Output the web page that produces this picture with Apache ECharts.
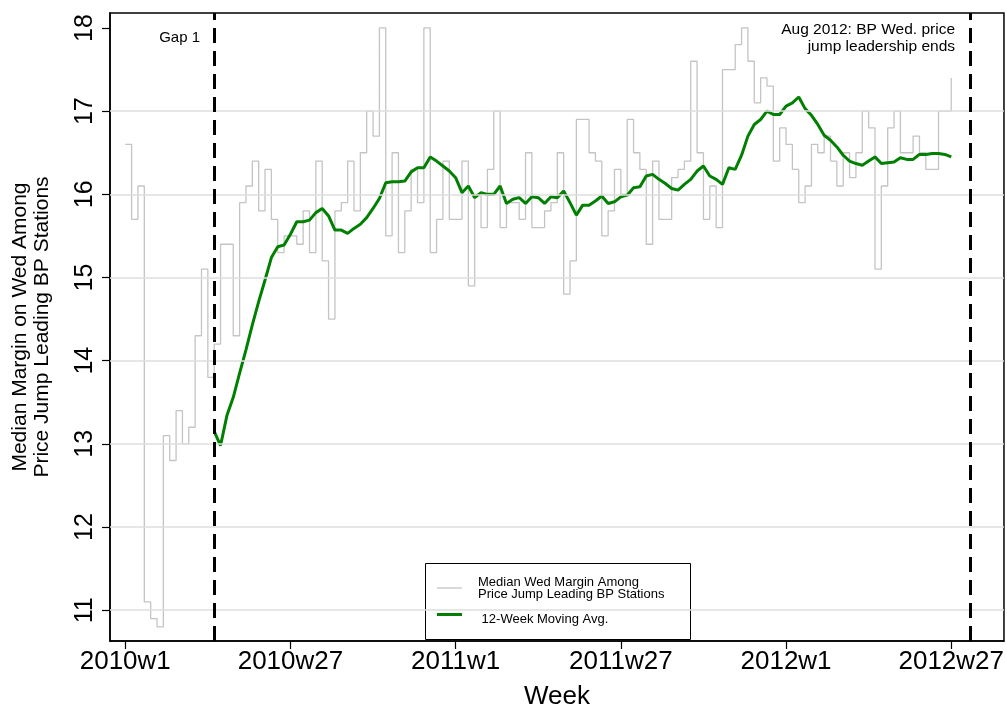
<!DOCTYPE html>
<html>
<head>
<meta charset="utf-8">
<script src="https://cdn.jsdelivr.net/npm/echarts@6/dist/echarts.min.js"></script>
<style>
    html, body { margin: 0; padding: 0; background: #ffffff; }
    #chart { width: 1007px; height: 715px; }
</style>
</head>
<body>
<div id="chart"></div>
<script>
    // week index 0 = 2010w1
    const marginWed = [
        16.6, 15.7, 16.1, 11.1, 10.9, 10.8, 13.1, 12.8, 13.4, 13.0,
        13.2, 14.3, 15.1, 13.8, 14.2, 15.4, 15.4, 14.3, 15.9, 16.1,
        16.4, 15.8, 16.3, 15.7, 15.3, 15.5, 15.5, 15.4, 15.8, 15.3,
        16.4, 15.2, 14.5, 15.8, 15.9, 16.4, 15.8, 16.5, 17.0, 16.7,
        18.0, 15.5, 16.5, 15.3, 15.8, 16.3, 15.9, 18.0, 15.3, 15.7,
        16.4, 15.7, 15.7, 16.4, 14.9, 16.0, 15.6, 16.3, 17.0, 15.6,
        15.9, 15.9, 15.7, 16.5, 15.6, 15.6, 15.8, 15.9, 16.5, 14.8,
        15.2, 16.9, 16.9, 16.5, 16.4, 15.5, 15.8, 16.3, 16.0, 16.9,
        16.5, 16.3, 15.4, 16.4, 15.7, 15.7, 16.2, 16.3, 16.4, 17.6,
        16.5, 15.7, 16.1, 15.6, 17.5, 17.5, 17.8, 18.0, 17.6, 17.1,
        17.4, 17.3, 16.4, 16.8, 16.6, 16.3, 15.9, 16.1, 16.6, 16.5,
        16.7, 16.4, 16.1, 16.5, 16.2, 16.5, 17.0, 16.8, 15.1, 16.1,
        16.8, 17.0, 16.5, 16.5, 16.7, 16.5, 16.3, 16.3, 17.0, 17.0,
        17.4
    ];

    // 12-week moving average, starts at week index 14
    const maStart = 14;
    const movingAvg = [
        13.15, 12.98, 13.34, 13.56, 13.85, 14.13, 14.43, 14.71, 14.97, 15.24,
        15.37, 15.39, 15.52, 15.67, 15.67, 15.69, 15.78, 15.83, 15.74, 15.57,
        15.57, 15.53, 15.59, 15.64, 15.72, 15.83, 15.95, 16.14, 16.15, 16.15,
        16.16, 16.27, 16.32, 16.32, 16.45, 16.40, 16.34, 16.28, 16.20, 16.02,
        16.10, 15.96, 16.02, 16.00, 16.00, 16.10, 15.89, 15.94, 15.96, 15.89,
        15.97, 15.96, 15.89, 15.97, 15.96, 16.04, 15.90, 15.75, 15.87, 15.87,
        15.92, 15.98, 15.89, 15.91, 15.97, 15.99, 16.08, 16.09, 16.22, 16.24,
        16.18, 16.13, 16.07, 16.05, 16.12, 16.18, 16.28, 16.34, 16.22, 16.18,
        16.12, 16.32, 16.30, 16.47, 16.70, 16.84, 16.90, 17.00, 16.96, 16.96,
        17.06, 17.10, 17.17, 17.03, 16.95, 16.84, 16.71, 16.65, 16.57, 16.47,
        16.40, 16.37, 16.35, 16.40, 16.45, 16.37, 16.38, 16.39, 16.44, 16.42,
        16.42, 16.48, 16.48, 16.49, 16.49, 16.48, 16.45
    ];

    const tickWeeks = [0, 26, 52, 78, 104, 130];
    const tickLabels = ['2010w1', '2010w27', '2011w1', '2011w27', '2012w1', '2012w27'];
    const yTicks = [11, 12, 13, 14, 15, 16, 17, 18];
    const gridValues = [11, 12, 13, 14, 15, 16, 17];
    const gapWeeks = [14, 133];

    const grayName = 'Median Wed Margin Among\nPrice Jump Leading BP Stations';
    const greenName = ' 12-Week Moving Avg.';

    const font = '"Liberation Sans", Arial, Helvetica, sans-serif';
    const gray = '#c4c4c4';
    const green = '#008000';

    const chart = echarts.init(document.getElementById('chart'), null, { renderer: 'canvas' });

    const option = {
        backgroundColor: '#ffffff',
        animation: false,
        textStyle: { fontFamily: font, color: '#000' },
        grid: {
            left: 110, right: 3, top: 13, bottom: 68,
            show: true, borderColor: '#000', borderWidth: 1.5
        },
        xAxis: {
            type: 'value',
            min: -2.4,
            max: 138.3,
            name: 'Week',
            nameLocation: 'middle',
            nameGap: 43,
            nameTextStyle: { fontSize: 26, color: '#000', fontFamily: font },
            axisLine: { show: true, onZero: false, lineStyle: { color: '#000', width: 1.5 } },
            axisTick: { show: true, length: 8, customValues: tickWeeks, lineStyle: { color: '#000', width: 1.2 } },
            axisLabel: {
                customValues: tickWeeks,
                margin: 8,
                fontSize: 26,
                color: '#000',
                fontFamily: font,
                formatter: v => tickLabels[tickWeeks.indexOf(v)]
            },
            splitLine: { show: false }
        },
        yAxis: {
            type: 'value',
            min: 10.63,
            max: 18.18,
            name: 'Median Margin on Wed Among\nPrice Jump Leading BP Stations',
            nameLocation: 'middle',
            nameGap: 57,
            nameRotate: 90,
            nameTextStyle: { fontSize: 21, lineHeight: 22, color: '#000', fontFamily: font },
            axisLine: { show: true, onZero: false, lineStyle: { color: '#000', width: 1.5 } },
            axisTick: { show: true, length: 8, customValues: yTicks, lineStyle: { color: '#000', width: 1.2 } },
            axisLabel: {
                customValues: yTicks,
                rotate: 90,
                margin: 12,
                fontSize: 25,
                color: '#000',
                fontFamily: font
            },
            splitLine: { show: false }
        },
        graphic: [
            {
                type: 'text', x: 200, y: 38, z: 10,
                style: { text: 'Gap 1', fontSize: 15, fill: '#000', font: '15px ' + font, align: 'right', verticalAlign: 'middle' }
            },
            {
                type: 'text', x: 955, y: 38, z: 10,
                style: {
                    text: 'Aug 2012: BP Wed. price\njump leadership ends',
                    font: '15.5px ' + font, lineHeight: 16.5,
                    align: 'right', verticalAlign: 'middle', fill: '#000'
                }
            },
            {
                // legend box
                type: 'group', z: 20,
                children: [
                    {
                        type: 'rect',
                        shape: { x: 425.5, y: 563.5, width: 265, height: 76 },
                        style: { fill: '#fff', stroke: '#000', lineWidth: 1 }
                    },
                    {
                        type: 'line',
                        shape: { x1: 437, y1: 588, x2: 462, y2: 588 },
                        style: { stroke: gray, lineWidth: 1.3 }
                    },
                    {
                        type: 'text', x: 478, y: 588.5,
                        style: {
                            text: grayName, font: '13px ' + font, lineHeight: 12.5,
                            align: 'left', verticalAlign: 'middle', fill: '#000'
                        }
                    },
                    {
                        type: 'line',
                        shape: { x1: 437, y1: 614.5, x2: 462, y2: 614.5 },
                        style: { stroke: green, lineWidth: 3 }
                    },
                    {
                        type: 'text', x: 478, y: 619,
                        style: {
                            text: greenName, font: '13px ' + font,
                            align: 'left', verticalAlign: 'middle', fill: '#000'
                        }
                    }
                ]
            }
        ],
        series: [
            {
                // horizontal grid lines
                type: 'line',
                data: [],
                silent: true,
                z: 0,
                markLine: {
                    silent: true,
                    symbol: 'none',
                    label: { show: false },
                    lineStyle: { color: '#dedede', width: 1.6, type: 'solid' },
                    data: gridValues.map(v => ({ yAxis: v }))
                }
            },
            {
                name: grayName,
                type: 'line',
                step: 'end',
                symbol: 'none',
                z: 2,
                lineStyle: { color: gray, width: 1.3 },
                itemStyle: { color: gray },
                data: marginWed.map((v, i) => [i, v]),
                markLine: {
                    silent: true,
                    symbol: 'none',
                    label: { show: false },
                    lineStyle: { color: '#000', width: 3, type: [15, 8] },
                    data: gapWeeks.map(w => ({ xAxis: w }))
                }
            },
            {
                name: greenName,
                type: 'line',
                symbol: 'none',
                z: 3,
                lineStyle: { color: green, width: 3 },
                itemStyle: { color: green },
                data: movingAvg.map((v, i) => [i + maStart, v])
            }
        ]
    };

    chart.setOption(option);
</script>
</body>
</html>
